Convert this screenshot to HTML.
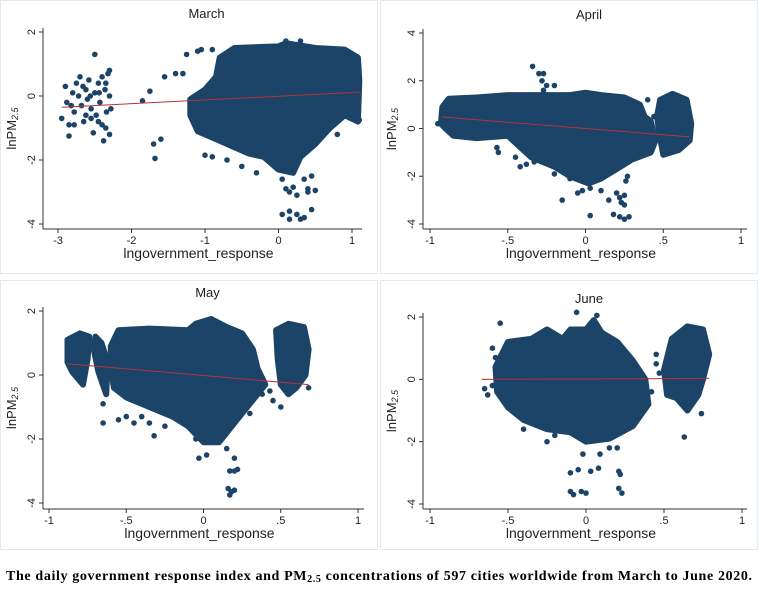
<!DOCTYPE html>
<html><head><meta charset="utf-8">
<style>
html,body{margin:0;padding:0;background:#fff;}
svg{display:block;font-family:"Liberation Sans",Arial,sans-serif;}
</style></head>
<body>
<svg id="chart" width="758" height="590" viewBox="0 0 758 590">
<rect x="0" y="0" width="758" height="590" fill="#fff"/>
<text x="6" y="580" textLength="746" lengthAdjust="spacing" font-family="'Liberation Serif',serif" font-weight="bold" font-size="14" fill="#000">The daily government response index and PM<tspan font-size="10" dy="2">2.5</tspan><tspan dy="-2"> concentrations of 597 cities worldwide from March to June 2020.</tspan></text>
</svg>
<script>
// ---- Data (values in data units) ----
const marchTicksX = [-3,-2,-1,0,1];
const marchTicksY = [2,0,-2,-4];
const marchBlobs = [[[-0.8,1.2],[-0.6,1.5],[0,1.55],[0.1,1.65],[0.5,1.5],[0.9,1.45],[1.08,1.2],[1.1,0.5],[1.08,-0.8],[0.9,-0.6],[0.7,-1.0],[0.5,-1.5],[0.3,-1.9],[0.2,-2.4],[0,-2.3],[-0.2,-1.9],[-0.4,-1.8],[-0.6,-1.6],[-0.8,-1.4],[-1.1,-1.1],[-1.2,-0.6],[-1.2,-0.1],[-1.0,0.2],[-0.85,0.6]]];
const marchPoints = [[-2.95,-0.7],[-2.9,0.3],[-2.88,-0.2],[-2.85,-0.9],[-2.85,-1.25],[-2.8,0.1],[-2.78,-0.5],[-2.75,0.4],[-2.72,0.0],[-2.7,0.6],[-2.68,-0.3],[-2.65,-0.8],[-2.62,0.2],[-2.6,-0.1],[-2.58,0.5],[-2.55,-0.4],[-2.52,-1.15],[-2.5,0.1],[-2.5,1.3],[-2.48,-0.6],[-2.45,0.4],[-2.43,-0.2],[-2.4,0.6],[-2.4,-0.9],[-2.38,-1.4],[-2.36,0.2],[-2.34,-0.5],[-2.32,0.7],[-2.3,-1.2],[-2.3,0.0],[-2.28,-0.4],[-2.3,0.8],[-2.78,-0.9],[-2.62,-0.6],[-2.45,-0.8],[-2.35,-1.0],[-2.82,-0.3],[-2.66,0.3],[-2.56,0.0],[-2.44,0.1],[-2.35,0.4],[-2.55,-0.7],
[-1.85,-0.15],[-1.75,0.15],[-1.7,-1.5],[-1.68,-1.95],[-1.6,-1.35],[-1.55,0.6],[-1.4,0.7],[-1.3,0.7],[-1.25,1.3],[-1.05,1.45],[-1.1,1.4],[-0.9,1.45],[-1.0,-1.85],[-0.9,-1.9],[-0.7,-2.0],[-0.5,-2.2],[-0.3,-2.4],[0.05,-2.6],[0.1,-2.9],[0.2,-2.85],[0.25,-3.1],[0.35,-2.6],[0.4,-2.9],[0.45,-2.5],[0.5,-2.95],[0.05,-3.7],[0.15,-3.6],[0.15,-3.85],[0.25,-3.7],[0.3,-3.85],[0.45,-3.55],[0.35,-3.8],[0.15,-3.0],[0.4,-3.0],[0.3,1.72],[0.1,1.72],[1.1,-0.75],[0.8,-1.2]];
const marchFit = [[-2.95,-0.35],[1.1,0.12]];

const aprilTicksX = [-1,-0.5,0,0.5,1];
const aprilTicksY = [4,2,0,-2,-4];
const aprilBlobs = [[[-0.93,0.2],[-0.92,0.9],[-0.88,1.25],[-0.7,1.3],[-0.5,1.4],[-0.3,1.4],[-0.1,1.4],[0,1.5],[0.1,1.4],[0.25,1.3],[0.35,1.0],[0.38,0.5],[0.42,0.3],[0.45,-0.5],[0.42,-1.0],[0.3,-1.3],[0.2,-1.7],[0.1,-2.1],[0.02,-2.3],[-0.1,-2.0],[-0.2,-1.6],[-0.35,-1.2],[-0.45,-0.6],[-0.5,-0.3],[-0.7,-0.4],[-0.85,-0.3],[-0.9,0.0]],
 [[0.48,1.2],[0.56,1.45],[0.65,1.2],[0.68,0.2],[0.67,-0.5],[0.6,-0.9],[0.5,-1.1],[0.48,-0.4],[0.46,0.5]]];
const aprilPoints = [[-0.34,2.6],[-0.3,2.3],[-0.27,2.3],[-0.28,2.0],[-0.25,1.8],[-0.27,1.6],[-0.2,1.8],[-0.57,-0.8],[-0.56,-1.0],[-0.45,-1.2],[-0.42,-1.6],[-0.38,-1.5],[-0.33,-1.4],[-0.2,-1.9],[-0.1,-2.1],[-0.15,-3.0],[-0.05,-2.7],[-0.02,-2.6],[0.03,-2.5],[0.03,-3.65],[0.1,-2.6],[0.15,-3.0],[0.18,-3.6],[0.2,-2.7],[0.22,-2.9],[0.23,-3.1],[0.25,-2.8],[0.25,-3.2],[0.22,-3.7],[0.25,-3.8],[0.28,-3.7],[0.26,-2.2],[0.27,-2.0],[-0.95,0.2],[0.4,1.2],[0.44,0.5]];
const aprilFit = [[-0.92,0.48],[0.67,-0.35]];

const mayTicksX = [-1,-0.5,0,0.5,1];
const mayTicksY = [2,0,-2,-4];
const mayBlobs = [[[-0.88,0.4],[-0.88,1.1],[-0.8,1.3],[-0.74,1.2],[-0.75,0.5],[-0.78,-0.3],[-0.85,0.1]],
 [[-0.7,1.2],[-0.66,1.0],[-0.62,0.4],[-0.63,-0.6],[-0.68,0.1],[-0.71,0.8]],
 [[-0.6,0.9],[-0.55,1.4],[-0.35,1.45],[-0.1,1.4],[-0.05,1.6],[0.05,1.75],[0.15,1.5],[0.25,1.3],[0.32,0.8],[0.35,0.2],[0.4,-0.3],[0.3,-0.9],[0.2,-1.5],[0.1,-2.1],[0,-2.1],[-0.1,-1.6],[-0.2,-1.3],[-0.35,-1.0],[-0.5,-0.7],[-0.58,-0.4],[-0.6,0.2]],
 [[0.47,1.4],[0.55,1.6],[0.65,1.5],[0.68,0.8],[0.66,0.0],[0.6,-0.4],[0.55,-0.6],[0.5,-0.3],[0.48,0.5]]];
const mayPoints = [[-0.65,-1.5],[-0.55,-1.4],[-0.5,-1.3],[-0.45,-1.5],[-0.4,-1.3],[-0.35,-1.5],[-0.32,-1.9],[-0.25,-1.6],[-0.15,-1.4],[-0.05,-2.0],[-0.03,-2.6],[0.02,-2.5],[0.2,-2.6],[0.15,-2.3],[0.17,-3.0],[0.2,-3.0],[0.22,-2.95],[0.16,-3.55],[0.18,-3.65],[0.2,-3.6],[0.17,-3.75],[0.45,-0.8],[0.5,-1.0],[0.68,-0.4],[0.25,-1.0],[0.3,-1.2],[-0.65,-0.9],[0.38,-0.6],[0.43,-0.5]];
const mayFit = [[-0.88,0.35],[0.68,-0.3]];

const juneTicksX = [-1,-0.5,0,0.5,1];
const juneTicksY = [2,0,-2,-4];
const juneBlobs = [[[-0.58,0.4],[-0.5,1.2],[-0.35,1.3],[-0.25,1.6],[-0.15,1.3],[-0.1,1.6],[0,1.6],[0.05,1.9],[0.1,1.5],[0.2,1.2],[0.3,0.6],[0.38,0.0],[0.4,-0.8],[0.3,-1.5],[0.15,-1.9],[0,-2.0],[-0.1,-1.7],[-0.25,-1.6],[-0.4,-1.3],[-0.5,-0.9],[-0.57,-0.4]],
 [[0.55,1.3],[0.65,1.7],[0.75,1.6],[0.79,0.8],[0.75,0.0],[0.72,-0.5],[0.65,-1.0],[0.58,-0.6],[0.52,-0.5],[0.5,0.3]]];
const junePoints = [[-0.65,-0.3],[-0.63,-0.5],[-0.6,-0.2],[-0.55,1.8],[-0.6,1.0],[-0.58,0.7],[-0.4,-1.6],[-0.3,-1.5],[-0.25,-2.0],[-0.2,-1.8],[-0.06,2.15],[0.07,2.05],[-0.02,-2.4],[0.09,-2.4],[-0.1,-3.0],[-0.05,-2.9],[0.03,-2.95],[0.08,-2.85],[0.21,-2.95],[0.22,-3.05],[-0.1,-3.6],[-0.08,-3.7],[-0.03,-3.6],[0,-3.65],[0.21,-3.5],[0.23,-3.65],[0.63,-1.85],[0.74,-1.1],[0.45,0.5],[0.47,0.2],[0.42,-0.4],[0.2,-2.2],[0.15,-2.2],[0.45,0.8]];
const juneFit = [[-0.67,0.0],[0.79,0.03]];

// ---- Layout ----
const panels = [
 {id:'march',title:'March',blobs:marchBlobs,pts:marchPoints,fit:marchFit,tx:marchTicksX,ty:marchTicksY,
  x0:-3,px0:58,x1:1,px1:352,y0:2,py0:32,y1:-4,py1:224,axX:43,axY:229,axEnd:362,axTop:28},
 {id:'april',title:'April',blobs:aprilBlobs,pts:aprilPoints,fit:aprilFit,tx:aprilTicksX,ty:aprilTicksY,
  x0:-1,px0:430,x1:1,px1:741,y0:4,py0:33,y1:-4,py1:224,axX:423,axY:229,axEnd:747,axTop:29},
 {id:'may',title:'May',blobs:mayBlobs,pts:mayPoints,fit:mayFit,tx:mayTicksX,ty:mayTicksY,
  x0:-1,px0:49,x1:1,px1:358,y0:2,py0:311,y1:-4,py1:503,axX:43,axY:509,axEnd:364,axTop:307},
 {id:'june',title:'June',blobs:juneBlobs,pts:junePoints,fit:juneFit,tx:juneTicksX,ty:juneTicksY,
  x0:-1,px0:430,x1:1,px1:742,y0:2,py0:317,y1:-4,py1:504,axX:423,axY:509,axEnd:747,axTop:313}
];
const boxes = [[0,0,378,274],[380,0,378,274],[0,280,378,270],[380,280,378,270]];
const svg = document.getElementById('chart');
const NS = 'http://www.w3.org/2000/svg';
const DOT = '#1b4468';
function mk(tag, attrs){const e=document.createElementNS(NS,tag);for(const k in attrs)e.setAttribute(k,attrs[k]);return e;}
function fmt(v){if(v===0)return '0';const s=String(v);return s.replace(/^(-?)0\./,'$1.');}

panels.forEach((p,i)=>{
  const g = mk('g',{});
  
  
  svg.appendChild(g);
  const b = boxes[i];
  const frame = mk('rect',{x:b[0]+0.5,y:b[1]+0.5,width:b[2]-1,height:b[3]-1,fill:'#fff',stroke:'#e3e8ee','stroke-width':1});
  
  
  g.appendChild(frame);
  const sx = v => p.px0 + (v-p.x0)*(p.px1-p.px0)/(p.x1-p.x0);
  const sy = v => p.py0 + (v-p.y0)*(p.py1-p.py0)/(p.y1-p.y0);
  const t = mk('text',{x:(p.axX+p.axEnd)/2+4,y:p.axTop-10,'text-anchor':'middle','font-size':13,fill:'#222'});
  t.textContent = p.title;
  
  
  g.appendChild(t);
  p.blobs.forEach(bl=>{
    const poly = mk('polygon',{points:bl.map(q=>sx(q[0]).toFixed(1)+','+sy(q[1]).toFixed(1)).join(' '),fill:DOT,stroke:DOT,'stroke-width':6,'stroke-linejoin':'round'});
    
    
    g.appendChild(poly);
  });
  p.pts.forEach(q=>{
    const c = mk('circle',{cx:sx(q[0]).toFixed(1),cy:sy(q[1]).toFixed(1),r:2.8,fill:DOT});
    
    
    g.appendChild(c);
  });
  const fl = mk('line',{x1:sx(p.fit[0][0]),y1:sy(p.fit[0][1]),x2:sx(p.fit[1][0]),y2:sy(p.fit[1][1]),stroke:'#b5333a','stroke-width':1});
  
  
  g.appendChild(fl);
  const ya = mk('line',{x1:p.axX,y1:p.axTop,x2:p.axX,y2:p.axY,stroke:'#333','stroke-width':1});
  
  
  g.appendChild(ya);
  const xa = mk('line',{x1:p.axX,y1:p.axY,x2:p.axEnd,y2:p.axY,stroke:'#333','stroke-width':1});
  
  
  g.appendChild(xa);
  p.tx.forEach(v=>{
    const x = sx(v);
    g.appendChild(mk('line',{x1:x,y1:p.axY,x2:x,y2:p.axY+4,stroke:'#333','stroke-width':1}));
    const lt = mk('text',{x:x,y:p.axY+15,'text-anchor':'middle','font-size':11,fill:'#222'});
    lt.textContent = fmt(v);
    
    
    g.appendChild(lt);
  });
  p.ty.forEach(v=>{
    const y = sy(v);
    g.appendChild(mk('line',{x1:p.axX-4,y1:y,x2:p.axX,y2:y,stroke:'#333','stroke-width':1}));
    const lt = mk('text',{x:p.axX-8,y:y,'text-anchor':'middle','font-size':11,fill:'#222',transform:'rotate(-90 '+(p.axX-8)+' '+y+')'});
    lt.textContent = fmt(v);
    
    
    g.appendChild(lt);
  });
  const xt = mk('text',{x:(p.axX+p.axEnd)/2-4,y:p.axY+29,'text-anchor':'middle','font-size':14,fill:'#222'});
  xt.textContent = 'lngovernment_response';
  
  
  g.appendChild(xt);
  const yx = p.axX-27, yy = (p.axTop+p.axY)/2;
  const yt = mk('text',{x:yx,y:yy,'text-anchor':'middle','font-size':13,fill:'#222',transform:'rotate(-90 '+yx+' '+yy+')'});
  yt.innerHTML = 'lnPM<tspan font-size="9" font-style="italic" dy="2">2.5</tspan>';
  
  
  g.appendChild(yt);
});
</script>
</body></html>
